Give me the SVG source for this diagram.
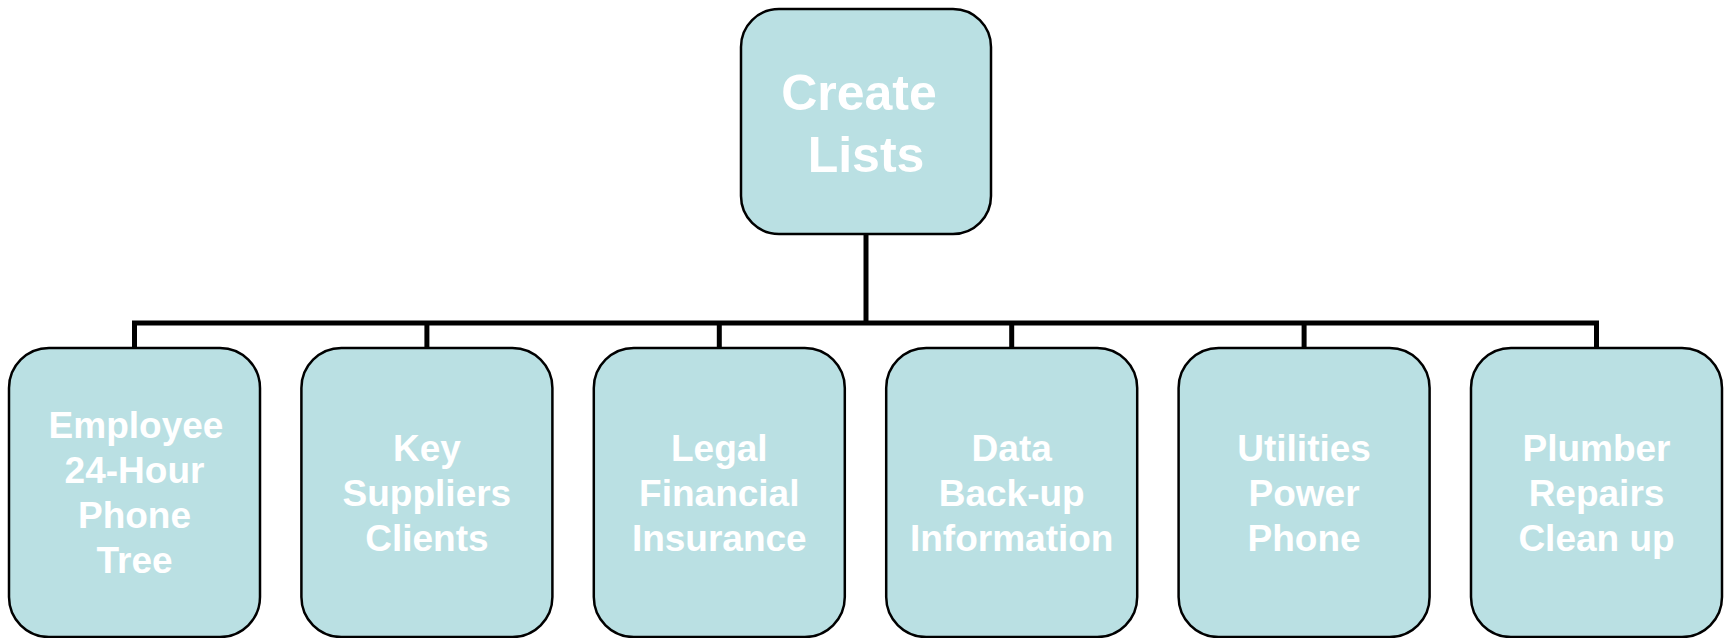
<svg xmlns="http://www.w3.org/2000/svg" width="1724" height="638" viewBox="0 0 1724 638">
  <style>
    .box { fill: #BAE0E3; stroke: #000; stroke-width: 2.5; }
    .lbl { fill: #FFFFFF; font-family: "Liberation Sans", Arial, sans-serif; font-weight: bold; text-anchor: middle; }
    .top { font-size: 50px; }
    .sub { font-size: 37px; }
    .conn { fill: none; stroke: #000; stroke-width: 5; stroke-linecap: butt; stroke-linejoin: miter; }
  </style>
  <rect width="1724" height="638" fill="#FFFFFF"/>
  <g id="connectors">
    <line class="conn" x1="866" y1="234" x2="866" y2="323"/>
    <line class="conn" x1="132" y1="323" x2="1599" y2="323"/>
    <line class="conn" x1="134.5" y1="321" x2="134.5" y2="348"/>
    <line class="conn" x1="426.9" y1="321" x2="426.9" y2="348"/>
    <line class="conn" x1="719.3" y1="321" x2="719.3" y2="348"/>
    <line class="conn" x1="1011.7" y1="321" x2="1011.7" y2="348"/>
    <line class="conn" x1="1304.1" y1="321" x2="1304.1" y2="348"/>
    <line class="conn" x1="1596.5" y1="321" x2="1596.5" y2="348"/>
  </g>
  <g id="node-create-lists">
    <rect class="box" x="741" y="9" width="250" height="225" rx="38" ry="38"/>
    <text class="lbl top" x="859" y="110">Create</text>
    <text class="lbl top" x="866" y="172">Lists</text>
  </g>
  <g id="node-employee">
    <rect class="box" x="9" y="348" width="251" height="289" rx="40" ry="40"/>
    <text class="lbl sub" x="136" y="438">Employee</text>
    <text class="lbl sub" x="134.5" y="483">24-Hour</text>
    <text class="lbl sub" x="134.5" y="528">Phone</text>
    <text class="lbl sub" x="134.5" y="573">Tree</text>
  </g>
  <g id="node-key-suppliers">
    <rect class="box" x="301.4" y="348" width="251" height="289" rx="40" ry="40"/>
    <text class="lbl sub" x="426.9" y="461">Key</text>
    <text class="lbl sub" x="426.9" y="506">Suppliers</text>
    <text class="lbl sub" x="426.9" y="551">Clients</text>
  </g>
  <g id="node-legal">
    <rect class="box" x="593.8" y="348" width="251" height="289" rx="40" ry="40"/>
    <text class="lbl sub" x="719.3" y="461">Legal</text>
    <text class="lbl sub" x="719.3" y="506">Financial</text>
    <text class="lbl sub" x="719.3" y="551">Insurance</text>
  </g>
  <g id="node-data">
    <rect class="box" x="886.2" y="348" width="251" height="289" rx="40" ry="40"/>
    <text class="lbl sub" x="1011.7" y="461">Data</text>
    <text class="lbl sub" x="1011.7" y="506">Back-up</text>
    <text class="lbl sub" x="1011.7" y="551">Information</text>
  </g>
  <g id="node-utilities">
    <rect class="box" x="1178.6" y="348" width="251" height="289" rx="40" ry="40"/>
    <text class="lbl sub" x="1304.1" y="461">Utilities</text>
    <text class="lbl sub" x="1304.1" y="506">Power</text>
    <text class="lbl sub" x="1304.1" y="551">Phone</text>
  </g>
  <g id="node-plumber">
    <rect class="box" x="1471" y="348" width="251" height="289" rx="40" ry="40"/>
    <text class="lbl sub" x="1596.5" y="461">Plumber</text>
    <text class="lbl sub" x="1596.5" y="506">Repairs</text>
    <text class="lbl sub" x="1596.5" y="551">Clean up</text>
  </g>
</svg>
